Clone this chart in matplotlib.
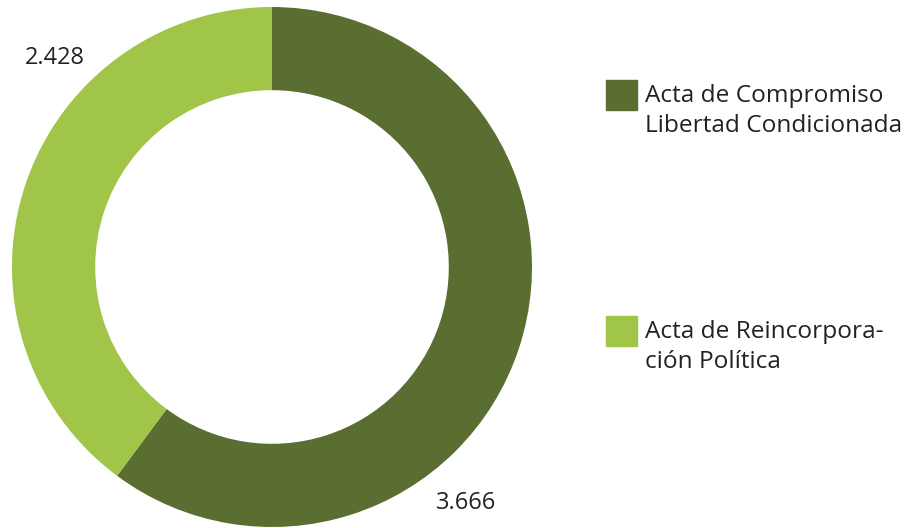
import matplotlib.pyplot as plt
from matplotlib.patches import Rectangle

plt.rcParams['font.family'] = ['Open Sans', 'DejaVu Sans']

categorias = ['Acta de Compromiso\nLibertad Condicionada', 'Acta de Reincorpora-\nción Política']
valores = [3.666, 2.428]
etiquetas = ['3.666', '2.428']
colores = ['#5b6e31', '#a0c548']

W, H = 924, 528
fig = plt.figure(figsize=(W / 100, H / 100), dpi=100)
# donut: centro (272, 267), radio 260 px
ax = fig.add_axes([12 / W, (H - 527) / H, 520 / W, 520 / H])
wedges, _ = ax.pie(valores, colors=colores, startangle=90, counterclock=False,
                   radius=1, wedgeprops=dict(width=0.32, linewidth=0))
ax.set_xlim(-1, 1)
ax.set_ylim(-1, 1)
ax.set_aspect('equal')
ax.axis('off')

# etiquetas de valores
pos_etiquetas = [(0.746, -0.908), (-0.835, 0.804)]
for (x, y), t in zip(pos_etiquetas, etiquetas):
    ax.text(x, y, t, fontsize=17, color='#222222', ha='center', va='center')

# leyenda manual
ys = [80, 316]
for y, c, lab in zip(ys, colores, categorias):
    fig.patches.append(Rectangle((606 / W, 1 - (y + 30) / H), 31 / W, 30 / H,
                                 transform=fig.transFigure, color=c, figure=fig))
    fig.text(645 / W, 1 - (y + 4) / H, lab, fontsize=17.6, color='#222222',
             ha='left', va='top', linespacing=1.32)

fig.savefig('out.png', dpi=100)
